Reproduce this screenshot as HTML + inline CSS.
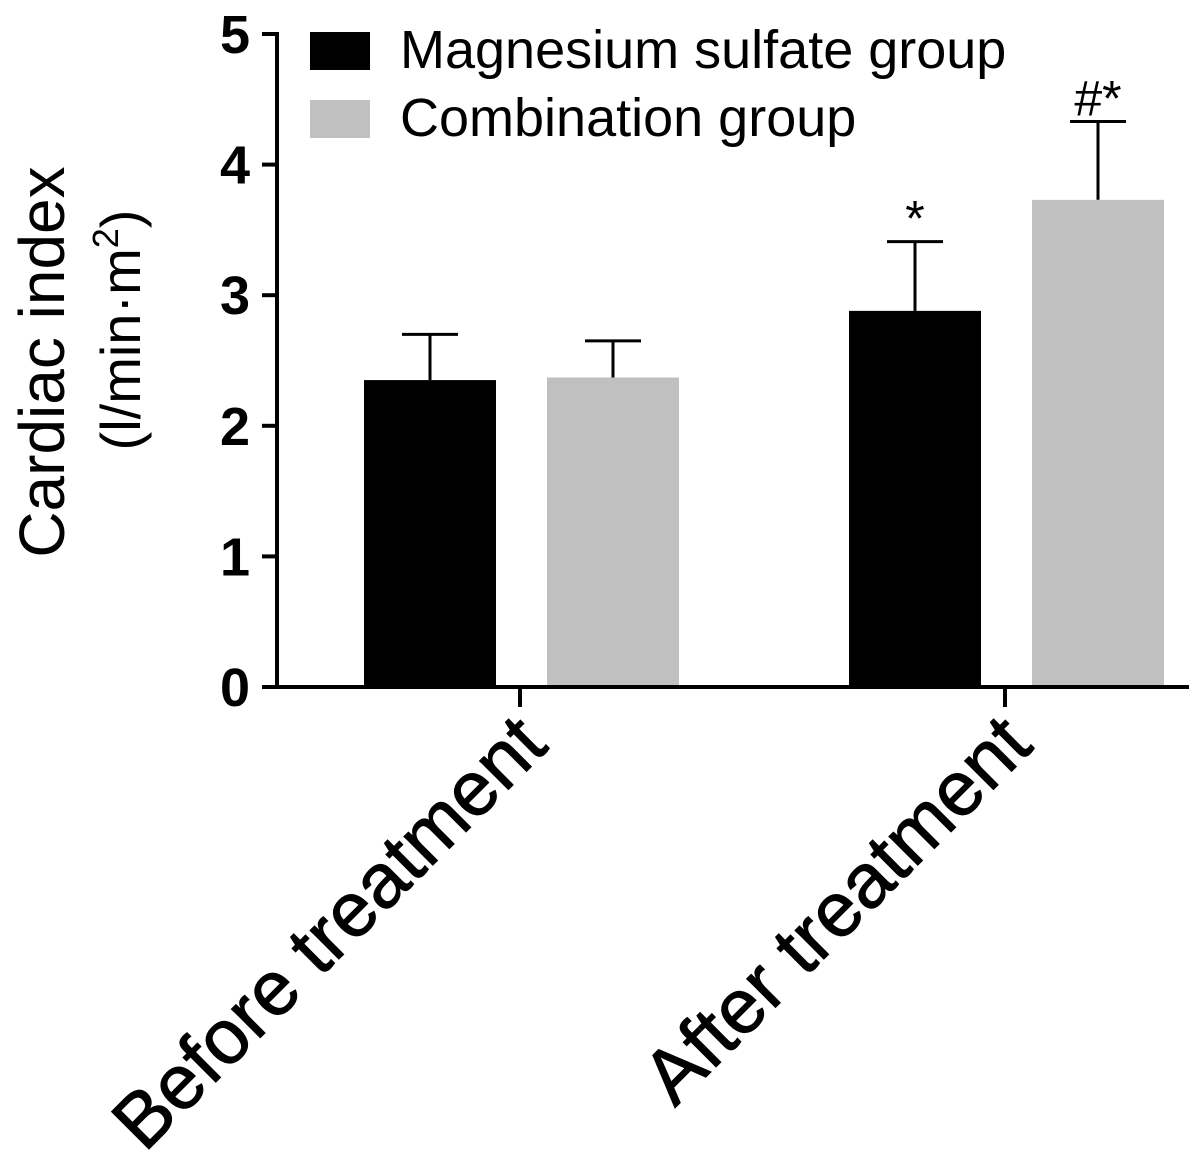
<!DOCTYPE html>
<html><head><meta charset="utf-8"><style>
body{margin:0;background:#fff}
svg{display:block;font-family:"Liberation Sans",Arial,sans-serif}
</style></head><body>
<svg id="c" width="1202" height="1168" viewBox="0 0 1202 1168"></svg>
<script>
const categories=["Before treatment","After treatment"];
const seriesNames=["Magnesium sulfate group","Combination group"];
const magMeans=[2.35,2.88];
const magErr=[0.35,0.53];
const comMeans=[2.37,3.73];
const comErr=[0.28,0.60];
const sigMag=["","*"];
const sigCom=["","#*"];
const yTicks=[0,1,2,3,4,5];

const NS="http://www.w3.org/2000/svg";
const svg=document.getElementById('c');
function y(v){return 687-v*130.6;}
const catCenter=[520,1005];
const offsets=[-90,93];
const bw=132;
const colors=["#000000","#c0c0c0"];
function mk(t,a,p){const e=document.createElementNS(NS,t);for(const k in a)e.setAttribute(k,a[k]);(p||svg).appendChild(e);return e;}

[magMeans,comMeans].forEach((means,s)=>{
  const errs=s===0?magErr:comErr, sig=s===0?sigMag:sigCom;
  means.forEach((m,i)=>{
    const cx=catCenter[i]+offsets[s];
    const top=y(m+errs[i]);
    const l=mk('line',{x1:cx,x2:cx,y1:y(m),y2:top,stroke:'#000','stroke-width':3});
    
    
    const c=mk('line',{x1:cx-28,x2:cx+28,y1:top,y2:top,stroke:'#000','stroke-width':3});
    
    
    const r=mk('rect',{x:cx-bw/2,y:y(m),width:bw,height:y(0)-y(m),fill:colors[s]});
    
    
    if(sig[i]){
      const t=mk('text',{x:cx,y:top-6,'text-anchor':'middle','font-size':50});
      t.textContent=sig[i];
      
      
    }
  });
});

const ya=mk('line',{x1:277,x2:277,y1:32,y2:689,stroke:'#000','stroke-width':4});


const xa=mk('line',{x1:262,x2:1189,y1:687,y2:687,stroke:'#000','stroke-width':4});


yTicks.forEach(v=>{
  const l=mk('line',{x1:262,x2:277,y1:y(v),y2:y(v),stroke:'#000','stroke-width':4});
  
  
  const t=mk('text',{x:250,y:y(v)+19,'text-anchor':'end','font-size':54,'font-weight':'bold'});
  t.textContent=v;
  
  
});
categories.forEach((c,i)=>{
  const x=catCenter[i];
  const l=mk('line',{x1:x,x2:x,y1:687,y2:707,stroke:'#000','stroke-width':4});
  
  
  const t=mk('text',{x:x+30,y:748,'text-anchor':'end','font-size':77,stroke:'#000','stroke-width':1,transform:`rotate(-45 ${x+30} 748)`});
  t.textContent=c;
  
  
});
const t1=mk('text',{x:64,y:362,'text-anchor':'middle','font-size':64,transform:'rotate(-90 64 362)'});
t1.textContent='Cardiac index';


const t2=mk('text',{x:140,y:330,'text-anchor':'middle','font-size':56,transform:'rotate(-90 140 330)'});
t2.innerHTML='(l/min·m<tspan font-size="36" dy="-22">2</tspan><tspan dy="22">)</tspan>';


seriesNames.forEach((n,s)=>{
  const yy=32+s*68;
  const r=mk('rect',{x:310,y:yy,width:60,height:38,fill:colors[s]});
  
  
  const t=mk('text',{x:400,y:yy+36,'font-size':54});
  t.textContent=n;
  
  
});
</script>
</body></html>
